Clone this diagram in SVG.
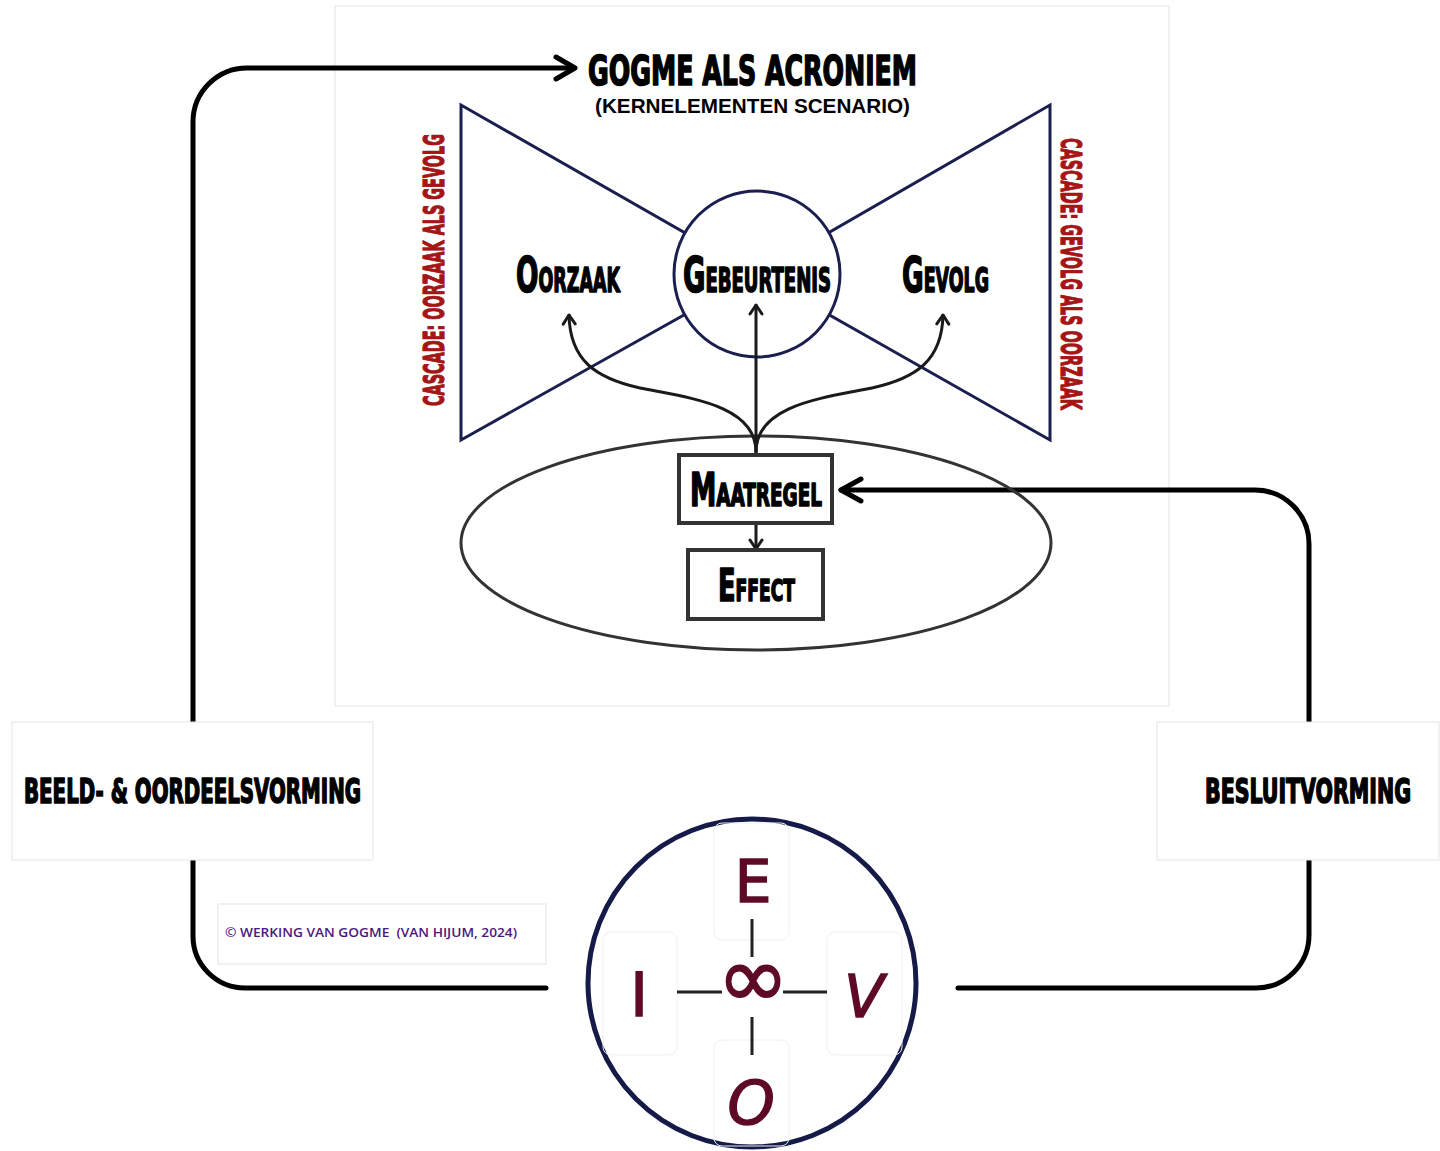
<svg xmlns="http://www.w3.org/2000/svg" width="1440" height="1151" viewBox="0 0 1440 1151">
<style>
.imp{font-family:"DejaVu Sans Condensed","DejaVu Sans",sans-serif;font-weight:bold;fill:#000;stroke:#000;stroke-width:1.6;stroke-linejoin:round;}
.red{font-family:"DejaVu Sans Condensed","DejaVu Sans",sans-serif;font-weight:bold;fill:#a51515;stroke:#a51515;stroke-width:1.2;stroke-linejoin:round;}
.faint{fill:#fff;stroke:#e4e4e4;stroke-width:1;}
.navy{fill:none;stroke:#1b1f4f;stroke-width:3;}
.loop{fill:none;stroke:#000;stroke-width:5;stroke-linecap:round;stroke-linejoin:round;}
.arr{fill:none;stroke:#1a1a1a;stroke-width:3;stroke-linecap:round;stroke-linejoin:round;}
.box{fill:#fff;stroke:#333;stroke-width:4;}
.hand{font-family:"DejaVu Sans",sans-serif;fill:#5e0a26;stroke:#5e0a26;stroke-width:1.5;}
.cross{stroke:#222;stroke-width:3;}
</style>
<defs>
<marker id="ah" viewBox="0 0 12 16" refX="11" refY="8" markerWidth="12" markerHeight="16" markerUnits="userSpaceOnUse" orient="auto">
<path d="M2,2 L11,8 L2,14" fill="none" stroke="#1a1a1a" stroke-width="3" stroke-linecap="round" stroke-linejoin="round"/>
</marker>
</defs>
<rect width="1440" height="1151" fill="#fff"/>

<rect id="panel" x="335" y="6" width="834" height="700" class="faint"/>

<g id="connectors">
<path class="loop" d="M193,722 L193,122 A54,54 0 0 1 247,68 L574,68"/>
<path class="loop" d="M556,57 L575,68 L556,79"/>
<path class="loop" d="M193,860 L193,936 A52,52 0 0 0 245,988 L546,988"/>
<path class="loop" d="M958,988 L1256,988 A53,53 0 0 0 1309,935 L1309,860"/>
<path class="loop" d="M1309,722 L1309,544 A54,54 0 0 0 1255,490 L841,490"/>
<path class="loop" d="M861,479 L841,490 L861,501"/>
</g>

<g id="bowtie">
<polygon class="navy" points="757,274 461,105 461,440"/>
<polygon class="navy" points="757,274 1050,105 1050,440"/>
</g>

<g id="gebeurtenis">
<circle cx="757" cy="274" r="83" fill="#fff" stroke="#1b1f4f" stroke-width="3"/>
<text class="imp" x="683" y="292" textLength="148" lengthAdjust="spacingAndGlyphs"><tspan font-size="50">G</tspan><tspan font-size="33">EBEURTENIS</tspan></text>
</g>

<g id="oorzaak">
<text class="imp" x="516" y="292" textLength="104" lengthAdjust="spacingAndGlyphs"><tspan font-size="50">O</tspan><tspan font-size="33">ORZAAK</tspan></text>
</g>

<g id="gevolg">
<text class="imp" x="902" y="292" textLength="87" lengthAdjust="spacingAndGlyphs"><tspan font-size="50">G</tspan><tspan font-size="33">EVOLG</tspan></text>
</g>

<g id="title">
<text class="imp" x="588" y="85" font-size="41" textLength="329" lengthAdjust="spacingAndGlyphs">GOGME ALS ACRONIEM</text>
<text x="595" y="113" font-family="Liberation Sans, Arial, sans-serif" font-weight="bold" font-size="20.5" textLength="315" lengthAdjust="spacingAndGlyphs">(KERNELEMENTEN SCENARIO)</text>
</g>

<g id="cascade-left">
<text class="red" transform="translate(444,270) rotate(-90)" x="0" y="0" font-size="29" text-anchor="middle" textLength="272" lengthAdjust="spacingAndGlyphs">CASCADE: OORZAAK ALS GEVOLG</text>
</g>
<g id="cascade-right">
<text class="red" transform="translate(1061,274) rotate(90)" x="0" y="0" font-size="29" text-anchor="middle" textLength="272" lengthAdjust="spacingAndGlyphs">CASCADE: GEVOLG ALS OORZAAK</text>
</g>

<g id="scope">
<ellipse cx="756" cy="543" rx="295" ry="107" fill="none" stroke="#333" stroke-width="3"/>
</g>

<g id="inner-connectors">
<path class="arr" d="M756,452 L756,305" marker-end="url(#ah)"/>
<path class="arr" d="M756,452 C756,405 690,398 640,388 C595,378 570,360 569,315" marker-end="url(#ah)"/>
<path class="arr" d="M756,452 C756,405 822,398 872,388 C917,378 942,360 943,315" marker-end="url(#ah)"/>
<path class="arr" d="M756,523 L756,549" marker-end="url(#ah)"/>
</g>

<g id="maatregel">
<rect class="box" x="679" y="455" width="153" height="68"/>
<text class="imp" x="690" y="506" textLength="132" lengthAdjust="spacingAndGlyphs"><tspan font-size="46">M</tspan><tspan font-size="32">AATREGEL</tspan></text>
</g>

<g id="effect">
<rect class="box" x="688" y="550" width="135" height="69"/>
<text class="imp" x="718" y="601" textLength="77" lengthAdjust="spacingAndGlyphs"><tspan font-size="45">E</tspan><tspan font-size="30">FFECT</tspan></text>
</g>

<g id="beeldvorming">
<rect class="faint" x="12" y="722" width="361" height="138"/>
<text class="imp" x="24" y="803" font-size="34" textLength="337" lengthAdjust="spacingAndGlyphs">BEELD- &amp; OORDEELSVORMING</text>
</g>
<g id="besluitvorming">
<rect class="faint" x="1157" y="722" width="282" height="138"/>
<text class="imp" x="1205" y="803" font-size="34" textLength="206" lengthAdjust="spacingAndGlyphs">BESLUITVORMING</text>
</g>

<g id="copyright">
<rect class="faint" x="218" y="904" width="328" height="60"/>
<text x="225" y="937" font-family="Open Sans, DejaVu Sans, sans-serif" font-weight="600" font-size="13" fill="#4a1880" textLength="292" lengthAdjust="spacingAndGlyphs">© WERKING VAN GOGME&#160; (VAN HIJUM, 2024)</text>
</g>

<g id="eivo">
<circle cx="752" cy="983" r="164" fill="#fff" stroke="#151a48" stroke-width="5"/>
<rect x="714" y="823" width="75" height="117" rx="8" fill="none" stroke="#efefef"/>
<rect x="603" y="932" width="74" height="123" rx="8" fill="none" stroke="#efefef"/>
<rect x="827" y="932" width="75" height="123" rx="8" fill="none" stroke="#efefef"/>
<rect x="714" y="1040" width="75" height="106" rx="8" fill="none" stroke="#efefef"/>
<line class="cross" x1="752" y1="919" x2="752" y2="957"/>
<line class="cross" x1="752" y1="1017" x2="752" y2="1055"/>
<line class="cross" x1="677" y1="992" x2="722" y2="992"/>
<line class="cross" x1="783" y1="992" x2="827" y2="992"/>
<text class="hand" x="753" y="902" font-size="58" text-anchor="middle">E</text>
<text class="hand" x="639" y="1016" font-size="60" text-anchor="middle">I</text>
<text class="hand" x="864" y="1017" font-size="58" text-anchor="middle" font-style="italic">V</text>
<text class="hand" x="751" y="1124" font-size="60" text-anchor="middle" font-style="italic">O</text>
<text class="hand" x="753" y="1007" font-size="86" text-anchor="middle" stroke-width="0.5">∞</text>
</g>
</svg>
